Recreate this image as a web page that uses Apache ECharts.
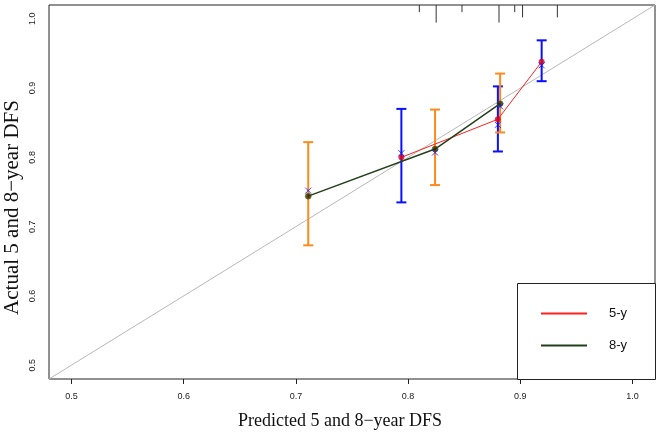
<!DOCTYPE html>
<html>
<head>
<meta charset="utf-8">
<script src="https://cdn.jsdelivr.net/npm/echarts@6/dist/echarts.min.js"></script>
<style>html,body{margin:0;padding:0;background:#fff}#c{width:661px;height:436px}</style>
</head>
<body>
<div id="c"></div>
<script>
// ---- data ----
const tickValues = [0.5, 0.6, 0.7, 0.8, 0.9, 1.0];
const axisRange = [0.48, 1.02];
// 5-year calibration
const pred5 = [0.794, 0.880, 0.919];
const obs5  = [0.800, 0.855, 0.938];
const corr5 = [0.806, 0.847, 0.933];
const lo5   = [0.735, 0.8085, 0.910];
const hi5   = [0.870, 0.9025, 0.969];
// 8-year calibration
const pred8 = [0.711, 0.824, 0.882];
const obs8  = [0.744, 0.812, 0.8775];
const corr8 = [0.752, 0.807, 0.8736];
const lo8   = [0.673, 0.760, 0.836];
const hi8   = [0.822, 0.869, 0.921];
// rug of predicted values (top axis) and relative weight
const rugX = [0.810, 0.825, 0.848, 0.881, 0.895, 0.902, 0.933];
const rugW = [1, 3, 1, 3, 1, 2, 2];

const BLUE = '#0a10ff', ORANGE = '#ff8a1c', RED = '#ff2020', GREEN = '#22401a';

function zip(a, b) { return a.map((v, i) => [v, b[i]]); }

function errBar(color) {
  return function (params, api) {
    const x = api.value(0);
    const top = api.coord([x, api.value(2)]);
    const bot = api.coord([x, api.value(1)]);
    const hw = 5;
    const st = { stroke: color, lineWidth: 2 };
    return { type: 'group', children: [
      { type: 'line', shape: { x1: top[0], y1: top[1], x2: bot[0], y2: bot[1] }, style: st },
      { type: 'line', shape: { x1: top[0] - hw, y1: top[1], x2: top[0] + hw, y2: top[1] }, style: st },
      { type: 'line', shape: { x1: bot[0] - hw, y1: bot[1], x2: bot[0] + hw, y2: bot[1] }, style: st }
    ]};
  };
}

const chart = echarts.init(document.getElementById('c'), null, { renderer: 'canvas' });
const labelFont = 'Liberation Sans, Arial, sans-serif';
const titleFont = 'Liberation Serif, Times New Roman, serif';

chart.setOption({
  animation: false,
  grid: { left: 49, right: 6, top: 5, bottom: 57, show: true, borderColor: '#222', borderWidth: 1, backgroundColor: 'transparent', outerBoundsMode: 'none', containLabel: false },
  xAxis: {
    type: 'value', min: axisRange[0], max: axisRange[1],
    axisLine: { show: false },
    splitLine: { show: false },
    axisTick: { show: true, length: 5, inside: false, customValues: tickValues, lineStyle: { color: '#222' } },
    axisLabel: { customValues: tickValues, formatter: v => v.toFixed(1), fontSize: 9, fontFamily: labelFont, color: '#222', margin: 13 },
    name: 'Predicted 5 and 8\u2212year DFS', nameLocation: 'middle', nameGap: 33, nameMoveOverlap: false,
    nameTextStyle: { fontSize: 18, fontFamily: titleFont, color: '#111', padding: [0, 24, 0, 0] }
  },
  yAxis: {
    type: 'value', min: axisRange[0], max: axisRange[1],
    axisLine: { show: false },
    splitLine: { show: false },
    axisTick: { show: false, customValues: tickValues },
    axisLabel: { customValues: tickValues, formatter: v => v.toFixed(1), rotate: 90, fontSize: 9, fontFamily: labelFont, color: '#222', margin: 12 },
    name: 'Actual 5 and 8\u2212year DFS', nameLocation: 'middle', nameGap: 26, nameMoveOverlap: false,
    nameTextStyle: { fontSize: 21, fontFamily: titleFont, color: '#111', padding: [0, 31, 0, 0] }
  },
  legend: {
    data: ['5-y', '8-y'], orient: 'vertical', left: 540, top: 307, z: 20,
    itemWidth: 46, itemHeight: 14, itemGap: 19, padding: 0,
    lineStyle: { width: 2 },
    itemStyle: { opacity: 0, borderWidth: 0 },
    textStyle: { fontSize: 13, fontFamily: labelFont, color: '#111', padding: [0, 0, 0, 17] }
  },
  graphic: [{ type: 'rect', left: 517, top: 283, shape: { width: 138, height: 96 }, style: { fill: '#fff', stroke: '#222', lineWidth: 1 }, z: 3 }],
  series: [
    { type: 'line', data: [[axisRange[0], axisRange[0]], [axisRange[1], axisRange[1]]], symbol: 'none', silent: true,
      lineStyle: { color: '#b8b8b8', width: 1 }, z: 1 },
    { type: 'custom', data: rugX.map((x, i) => [x, rugW[i]]), z: 2,
      renderItem: (params, api) => {
        const p = api.coord([api.value(0), axisRange[1]]);
        const len = 2 + 5.2 * api.value(1);
        return { type: 'line', shape: { x1: p[0], y1: p[1], x2: p[0], y2: p[1] + len }, style: { stroke: '#333', lineWidth: 1 } };
      } },
    { type: 'custom', data: pred5.map((x, i) => [x, lo5[i], hi5[i]]), renderItem: errBar(BLUE), z: 3 },
    { type: 'custom', data: pred8.map((x, i) => [x, lo8[i], hi8[i]]), renderItem: errBar(ORANGE), z: 3 },
    { name: '5-y', type: 'line', data: zip(pred5, obs5), symbol: 'none', lineStyle: { color: RED, width: 1 }, itemStyle: { color: RED }, z: 4 },
    { name: '8-y', type: 'line', data: zip(pred8, obs8), symbol: 'none', lineStyle: { color: GREEN, width: 1.5 }, itemStyle: { color: GREEN }, z: 4 },
    { type: 'scatter', data: zip(pred5, obs5), symbol: 'circle', symbolSize: 6, itemStyle: { color: '#d8001a' }, z: 5 },
    { type: 'scatter', data: zip(pred8, obs8), symbol: 'circle', symbolSize: 6, itemStyle: { color: '#2a2a00', borderColor: '#6b6b10', borderWidth: 0.6 }, z: 5 },
    { type: 'scatter', data: zip(pred5, corr5).concat(zip(pred8, corr8)), symbol: 'path://M0,0L10,10M10,0L0,10', symbolSize: 6,
      itemStyle: { color: 'none', borderColor: BLUE, borderWidth: 1 }, z: 6 }
  ]
});
</script>
</body>
</html>
